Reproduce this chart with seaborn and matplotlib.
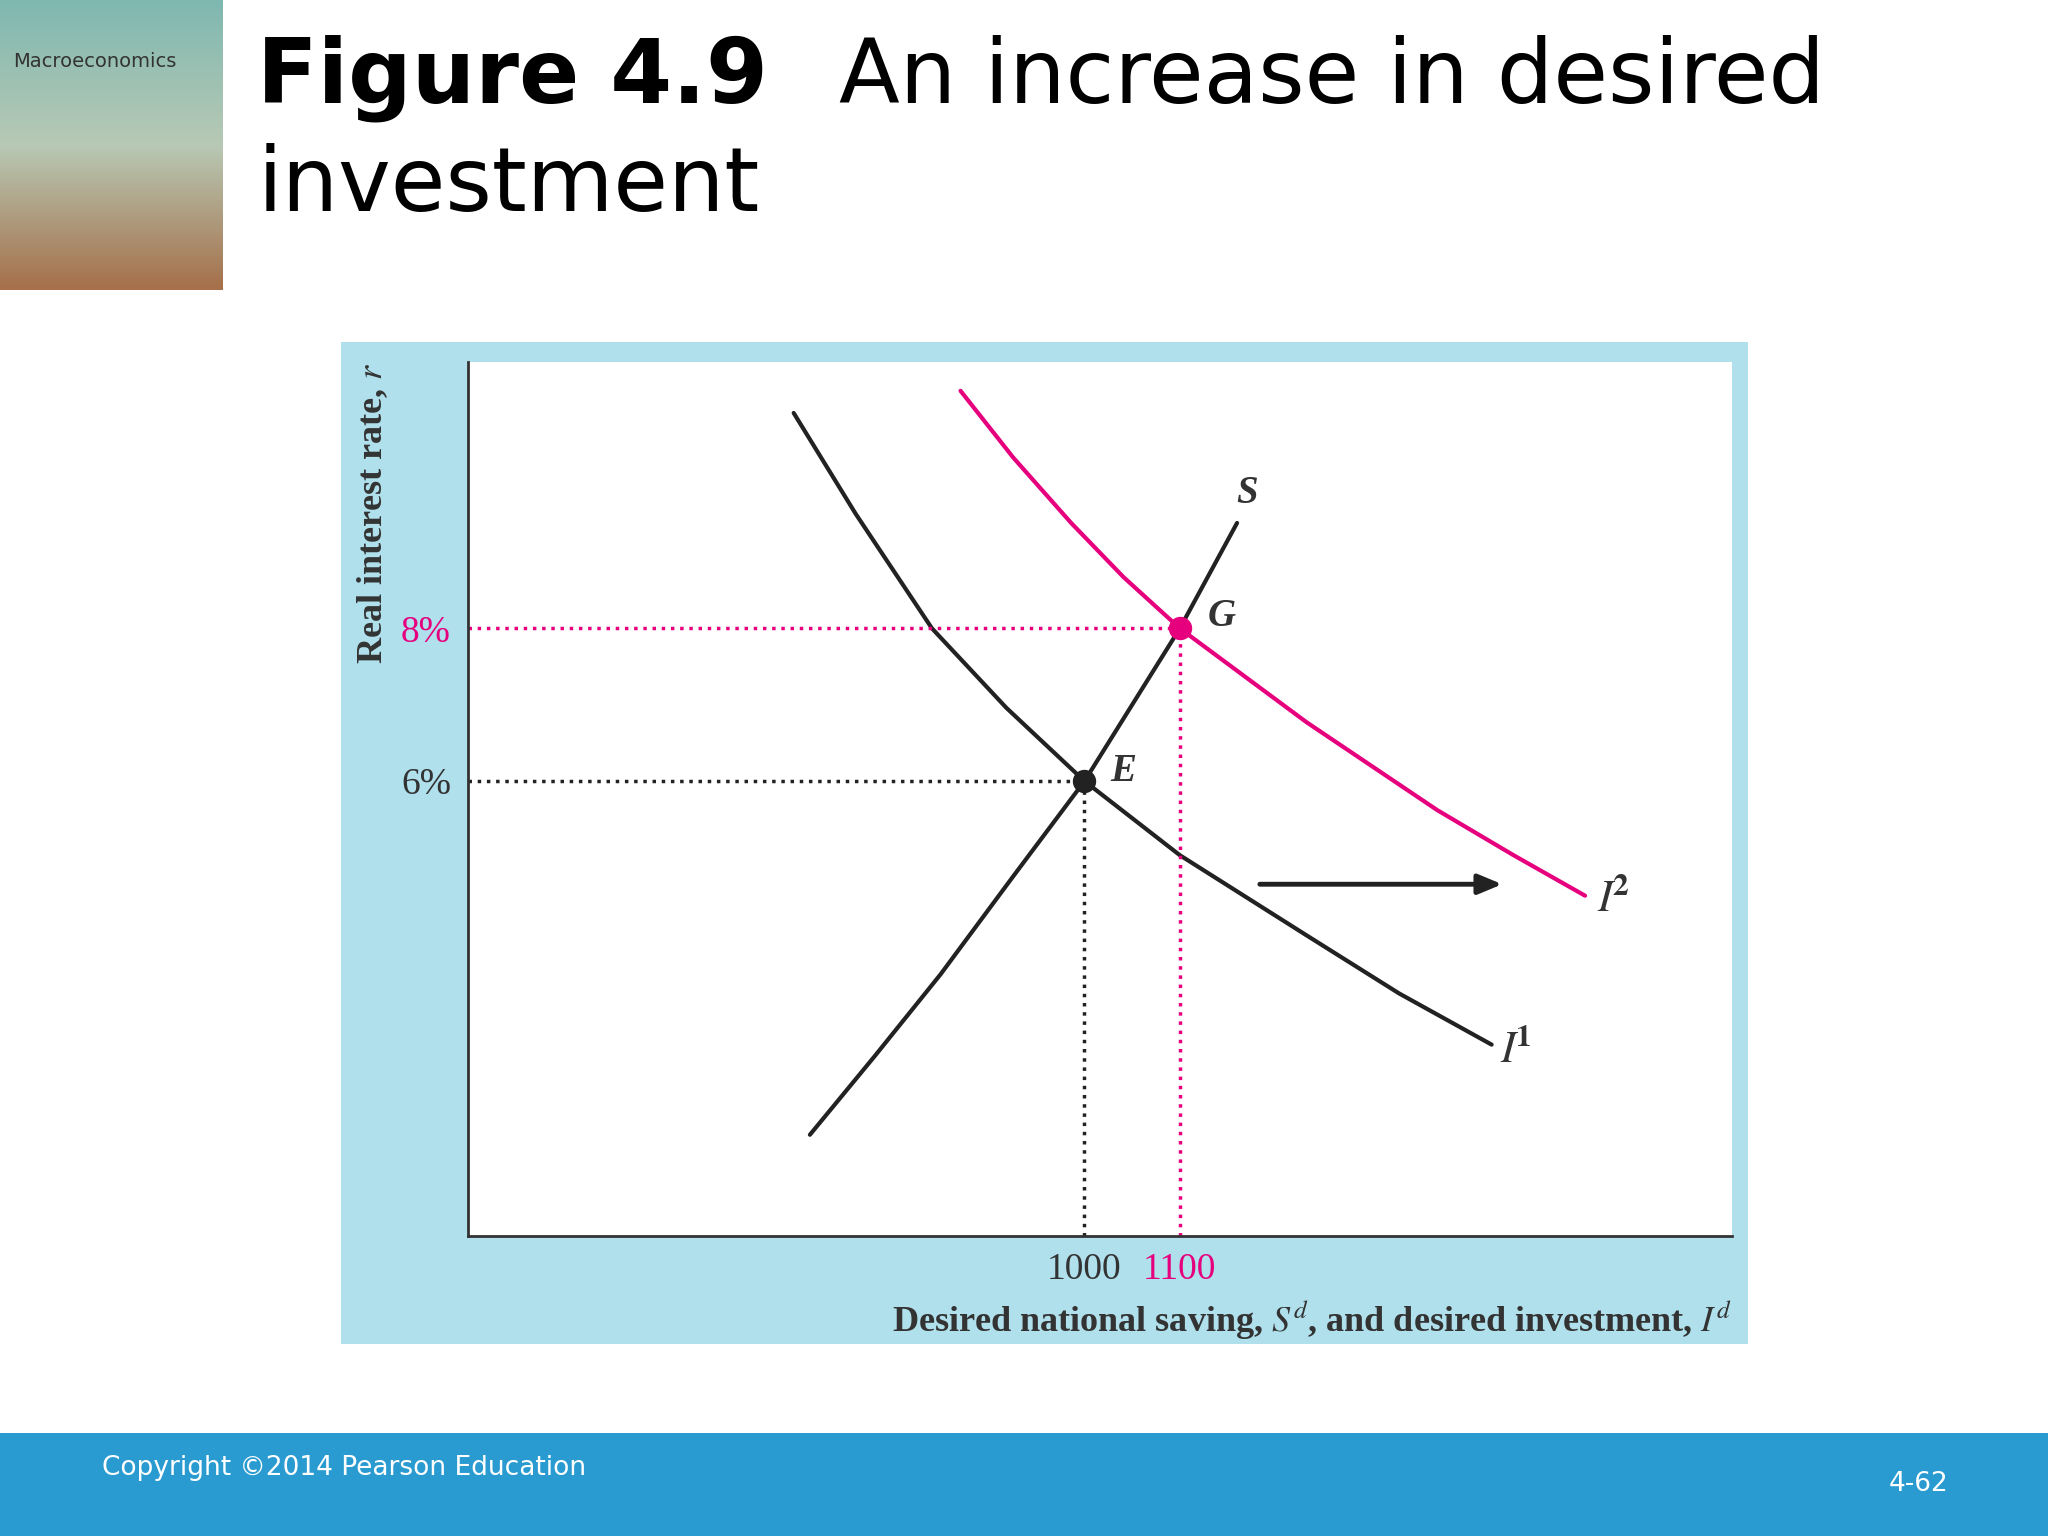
import numpy as np
import matplotlib
matplotlib.use("Agg")
import matplotlib.pyplot as plt
import seaborn as sns

sns.set_theme(style="white")
plt.rcParams['font.family'] = ['DejaVu Sans']
plt.rcParams['mathtext.fontset'] = 'stix'

# data
s_x = [712, 780, 849, 925, 1000, 1050, 1100, 1160]
s_y = [1.37, 2.40, 3.47, 4.75, 6.0, 7.0, 8.0, 9.38]
i1_x = [695, 760, 840, 918, 1000, 1100, 1233, 1330, 1427]
i1_y = [10.82, 9.50, 8.0, 6.96, 6.0, 5.03, 3.98, 3.22, 2.55]
i2_x = [870, 925, 986, 1041, 1100, 1233, 1370, 1450, 1525]
i2_y = [11.11, 10.24, 9.38, 8.67, 8.0, 6.77, 5.62, 5.03, 4.5]
eq_x = [1000, 1100]
eq_y = [6.0, 8.0]
xtick_labels = ["1000", "1100"]
ytick_labels = ["6%", "8%"]

MAG = "#e6007e"
W, H = 1568, 1176
fig = plt.figure(figsize=(20.48, 15.36), dpi=100)

def fx(px): return px / W
def fy(py): return 1 - py / H

def box(x0, y0, x1, y1, color):
    a = fig.add_axes([fx(x0), fy(y1), fx(x1) - fx(x0), fy(y0) - fy(y1)])
    a.set_facecolor(color)
    a.set_xticks([]); a.set_yticks([])
    for s in a.spines.values():
        s.set_visible(False)
    return a

# footer
box(0, 1097, W, H, "#2a9bd0")
fig.text(fx(78), fy(1124), "Copyright ©2014 Pearson Education", color="white", fontsize=19, va="center")
fig.text(fx(1492), fy(1136), "4-62", color="white", fontsize=19, va="center", ha="right")

# book cover
cax = fig.add_axes([0, fy(222), fx(170), fy(0) - fy(222)])
grad = np.linspace(0, 1, 100)[:, None] * np.ones((1, 60))
cax.imshow(grad, cmap=matplotlib.colors.LinearSegmentedColormap.from_list("c", ["#7fb8b0", "#b8c9b5", "#a5704a"]), aspect="auto")
cax.set_axis_off()
cax.text(0.06, 0.77, "Macroeconomics", transform=cax.transAxes, fontsize=14, color="#333")

# title
fig.text(fx(197), fy(60), "Figure 4.9", fontsize=64, fontweight="bold", va="center", color="black")
fig.text(fx(642), fy(60), "An increase in desired", fontsize=64, va="center", color="black")
fig.text(fx(197), fy(143), "investment", fontsize=64, va="center", color="black")

# panel
box(261, 262, 1338, 1029, "#afe0ec")

ax = fig.add_axes([fx(358), fy(946), fx(1326) - fx(358), fy(277) - fy(946)])
ax.set_facecolor("white")
ax.set_xlim(353, 1679)
ax.set_ylim(0.05, 11.49)
for sp in ["top", "right"]:
    ax.spines[sp].set_visible(False)
for sp in ["left", "bottom"]:
    ax.spines[sp].set_color("#333")
    ax.spines[sp].set_linewidth(2)

sns.lineplot(x=s_x, y=s_y, ax=ax, color="#222", lw=3, sort=False)
sns.lineplot(x=i1_x, y=i1_y, ax=ax, color="#222", lw=3, sort=False)
sns.lineplot(x=i2_x, y=i2_y, ax=ax, color=MAG, lw=3, sort=False)

ax.plot([353, eq_x[0]], [eq_y[0]] * 2, ls=":", color="#222", lw=2.5)
ax.plot([eq_x[0]] * 2, [0.05, eq_y[0]], ls=":", color="#222", lw=2.5)
ax.plot([353, eq_x[1]], [eq_y[1]] * 2, ls=":", color=MAG, lw=2.5)
ax.plot([eq_x[1]] * 2, [0.05, eq_y[1]], ls=":", color=MAG, lw=2.5)
ax.scatter([eq_x[0]], [eq_y[0]], s=250, color="#222", zorder=5)
ax.scatter([eq_x[1]], [eq_y[1]], s=250, color=MAG, zorder=5)

ax.annotate("", xy=(1441, 4.65), xytext=(1181, 4.65),
            arrowprops=dict(arrowstyle="-|>,head_length=1.2,head_width=0.5", color="#222", lw=3.5))

serif = ["Liberation Serif", "DejaVu Serif"]
kw = dict(family=serif, fontsize=28, style="italic", fontweight="bold", color="#333")
ax.text(1171, 9.76, "S", ha="center", va="center", **kw)
ax.text(1144, 8.15, "G", ha="center", va="center", **kw)
ax.text(1041, 6.12, "E", ha="center", va="center", **kw)
ax.text(1452, 2.47, r"$\mathbf{\mathit{I}}^{\mathbf{1}}$", ha="center", va="center", fontsize=32, color="#333")
ax.text(1555, 4.45, r"$\mathbf{\mathit{I}}^{\mathbf{2}}$", ha="center", va="center", fontsize=32, color="#333")

ax.set_xticks(eq_x)
ax.set_xticklabels(xtick_labels, family=serif, fontsize=27, color="#333")
ax.set_yticks(eq_y)
ax.set_yticklabels(ytick_labels, family=serif, fontsize=27, color="#333")
ax.get_xticklabels()[1].set_color(MAG)
ax.get_yticklabels()[1].set_color(MAG)
ax.tick_params(length=0, pad=12)
ax.set_xlabel("Desired national saving, $S^d$, and desired investment, $I^d$",
              family=serif, fontsize=26, fontweight="bold", color="#333", loc="right", labelpad=8)
ax.set_ylabel("Real interest rate, $r$", family=serif, fontsize=26, fontweight="bold",
              color="#333", loc="top", labelpad=8)

fig.savefig("out.png", dpi=100)
